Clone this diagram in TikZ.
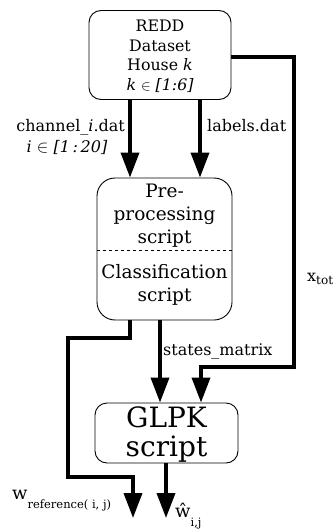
\documentclass[tikz,border=0pt]{standalone}
\usepackage{fontspec}
\setmainfont{DejaVu Serif}
\usetikzlibrary{arrows.meta,calc}
\begin{document}
\begin{tikzpicture}[x=1pt,y=-1pt,
  box/.style={draw,line width=0.9pt,rounded corners=12pt,inner sep=0pt},
  arr/.style={line width=3.6pt,-{Triangle[length=25pt,width=18pt]}},
  tr/.style={inner sep=0pt,anchor=base,font=\fontsize{15.8}{19}\selectfont},
  tm/.style={inner sep=0pt,anchor=base,font=\fontsize{18.5}{23}\selectfont},
  tg/.style={inner sep=0pt,anchor=base,font=\fontsize{28}{30}\selectfont},
  lbl/.style={inner sep=0pt,font=\fontsize{16}{18}\selectfont}
]
\useasboundingbox (0,0) rectangle (334,529);
% boxes
\node[box,minimum width=142pt,minimum height=89pt] (redd) at (160,55) {};
\node[box,rounded corners=18pt,minimum width=135pt,minimum height=142pt] (mid) at (164.5,249) {};
\node[box,minimum width=143pt,minimum height=60pt] (glpk) at (166.5,433) {};
% box texts
\node[tr] (r1t) at (160,32) {REDD};
\node[tr] (r2t) at (160,51.5) {Dataset};
\node[tr] (r3t) at (160,71) {House \textit{k}};
\node[tr] (r4t) at (160,90.5) {\textit{k} $\in$ \textit{[1:6]}};
\node[tm] (m1t) at (164.5,197) {Pre-};
\node[tm] (m2t) at (164.5,220) {processing};
\node[tm] (m3t) at (164.5,243) {script};
\node[tm] (m4t) at (164.5,278) {Classification};
\node[tm] (m5t) at (164.5,301) {script};
\node[tg] (g1t) at (166.5,427) {GLPK};
\node[tg] (g2t) at (166.5,456) {script};
\draw[dashed,line width=0.6pt] (mid.west |- 0,250) coordinate (dl) -- (mid.east |- 0,250) coordinate (dr);
% coordinates
\coordinate (xa) at (130,0);
\coordinate (xb) at (200,0);
\coordinate (xs) at (160,0);
\coordinate (xg) at (201,0);
\coordinate (xo) at (166,0);
\coordinate (q1) at (294,57);
\coordinate (q2) at (294,367);
\coordinate (l1) at (130,338);
\coordinate (l2) at (68,338);
\coordinate (l3) at (68,477);
\coordinate (l4) at (133,477);
\coordinate (wend) at (133,518);
\coordinate (hend) at (166,518);
% connectors
\draw[arr] (redd.south -| xa) -- (mid.north -| xa);
\draw[arr] (redd.south -| xb) -- (mid.north -| xb);
\draw[arr] (redd.east |- q1) -- (q1) -- (q2) -- (q2 -| xg) -- (glpk.north -| xg);
\draw[arr] (mid.south -| xs) -- (glpk.north -| xs);
\draw[arr] (mid.south -| l1) -- (l1) -- (l2) -- (l3) -- (l4) -- (wend);
\draw[arr] (glpk.south -| xo) -- (hend);
% labels
\node[lbl,anchor=base east] (lch) at (125,132) {channel\_\textit{i}.dat};
\node[lbl,anchor=base] (lci) at (67,153) {\textit{i} $\in$ \textit{[1\,:\,20]}};
\node[lbl,anchor=base west] (llb) at (207,132) {labels.dat};
\node[lbl,anchor=base west] (lsm) at (163,355) {states\_matrix};
\node[lbl,anchor=base west] (lx) at (307,281) {x\raisebox{-0.45ex}{\fontsize{12}{12}\selectfont tot}};
\node[lbl,anchor=base west,font=\fontsize{18}{18}\selectfont] (lw) at (12,499) {w\raisebox{-9pt}{\fontsize{11.5}{12}\selectfont reference( i, j)}};
\node[lbl,anchor=base west,font=\fontsize{18}{18}\selectfont] (lh) at (175,517) {ŵ\raisebox{-9pt}{\fontsize{11.5}{12}\selectfont i,j}};
\end{tikzpicture}
\end{document}
